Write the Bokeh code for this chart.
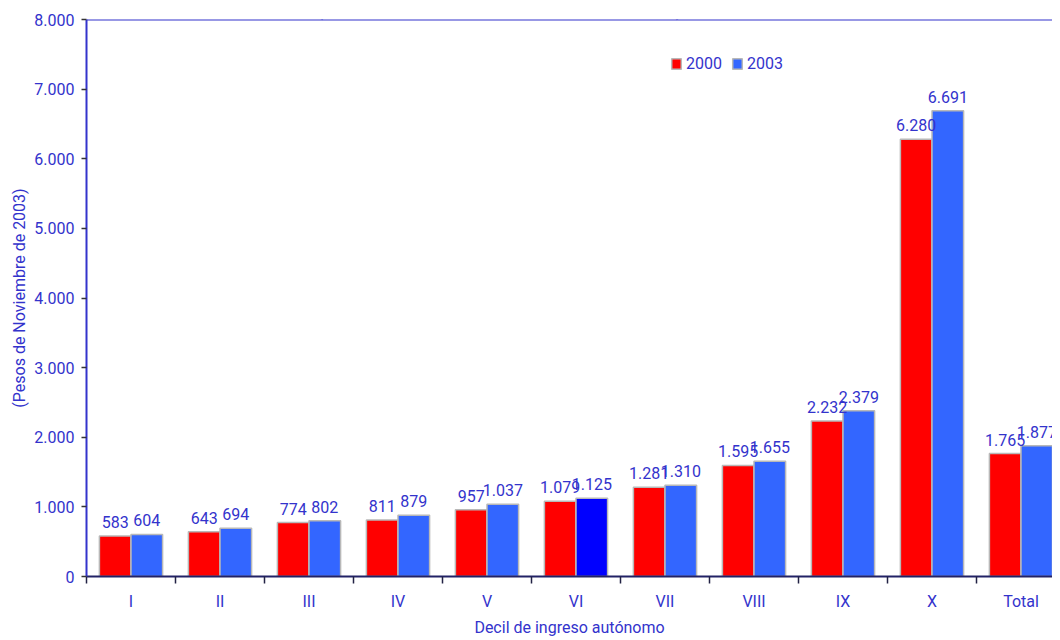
from bokeh.plotting import figure
from bokeh.models import ColumnDataSource, Range1d, FixedTicker, Span, Label, Legend, LegendItem
from bokeh.transform import dodge
from bokeh.embed import file_html
from bokeh.resources import INLINE
from bokeh.core.properties import value

# ---------------- data ----------------
categories = ["I", "II", "III", "IV", "V", "VI", "VII", "VIII", "IX", "X", "Total"]
values_2000 = [583, 643, 774, 811, 957, 1079, 1281, 1595, 2232, 6280, 1765]
values_2003 = [604, 694, 802, 879, 1037, 1125, 1310, 1655, 2379, 6691, 1877]
series_names = ["2000", "2003"]
y_ticks = [0, 1000, 2000, 3000, 4000, 5000, 6000, 7000, 8000]
highlight_category = "VI"
title_text = "(Pesos de noviembre de 2003)"
x_title = "Decil de ingreso autónomo"
y_title = "(Pesos de Noviembre de 2003)"

# ---------------- styles ----------------
FONT = "Roboto"
TXT = "#3333CC"
RED = "#FF0000"
BLUE = "#3366FF"
BLUE_HI = "#0000FF"
EDGE = "#B8B8B8"
W, H = 1052, 640
LEFT, TOP, BOTTOM = 86, 19, 64
CAT_PX = 89.0
BAR_W = 0.355

def fmt(v):
    return f"{v:,}".replace(",", ".")

xs = [i + 1 for i in range(len(categories))]
colors_2003 = [BLUE_HI if c == highlight_category else BLUE for c in categories]
src = ColumnDataSource(dict(
    x=xs, cat=categories,
    y2000=values_2000, y2003=values_2003,
    l2000=[fmt(v) for v in values_2000], l2003=[fmt(v) for v in values_2003],
    c2003=colors_2003,
))

frame_w = W - LEFT
frame_h = H - TOP - BOTTOM
x_end = 0.5 + frame_w / CAT_PX
y_max = y_ticks[-1]

p = figure(width=W, height=H, output_backend="svg", toolbar_location=None,
           x_range=Range1d(0.5, x_end), y_range=Range1d(0, y_max),
           min_border_left=LEFT, min_border_right=0, min_border_top=TOP,
           min_border_bottom=BOTTOM)
p.outline_line_color = None
p.xgrid.visible = False
p.ygrid.visible = False

r0 = p.vbar(x=dodge("x", -BAR_W / 2, range=p.x_range), top="y2000", width=BAR_W,
            source=src, fill_color=RED, line_color=EDGE, line_width=1.5)
r1 = p.vbar(x=dodge("x", BAR_W / 2, range=p.x_range), top="y2003", width=BAR_W,
            source=src, fill_color="c2003", line_color=EDGE, line_width=1.5)

for off, col, ycol in ((-BAR_W / 2, "l2000", "y2000"), (BAR_W / 2, "l2003", "y2003")):
    p.text(x=dodge("x", off, range=p.x_range), y=ycol, text=col, source=src,
           text_align="center", text_baseline="bottom", y_offset=-8,
           text_font=value(FONT), text_font_size="16px", text_color=TXT)

# top border line
p.add_layout(Span(location=y_max, dimension="width", line_color=TXT, line_width=2))

# x axis
xa = p.xaxis[0]
xa.ticker = FixedTicker(ticks=xs, minor_ticks=[x - 0.5 for x in xs] + [xs[-1] + 0.5])
xa.major_label_overrides = {x: c for x, c in zip(xs, categories)}
xa.major_tick_out = 0
xa.major_tick_in = 0
xa.minor_tick_out = 7
xa.minor_tick_in = 0
xa.minor_tick_line_color = "#222244"
xa.minor_tick_line_width = 1.5
xa.axis_line_color = "#222266"
xa.axis_line_width = 2
xa.major_label_standoff = 8
xa.major_label_text_font = FONT
xa.major_label_text_font_size = "16px"
xa.major_label_text_color = TXT
xa.axis_label = x_title
xa.axis_label_text_font = FONT
xa.axis_label_text_font_size = "16px"
xa.axis_label_text_font_style = "normal"
xa.axis_label_text_color = TXT
xa.axis_label_standoff = 4

# y axis
ya = p.yaxis[0]
ya.ticker = FixedTicker(ticks=y_ticks, minor_ticks=[])
ya.major_label_overrides = {t: fmt(t) for t in y_ticks}
ya.axis_line_color = TXT
ya.axis_line_width = 2
ya.major_tick_out = 5
ya.major_tick_in = 0
ya.major_tick_line_color = "#333333"
ya.major_tick_line_width = 1.5
ya.minor_tick_out = 0
ya.minor_tick_in = 0
ya.major_label_standoff = 7
ya.major_label_text_font = FONT
ya.major_label_text_font_size = "16px"
ya.major_label_text_color = TXT
ya.axis_label = y_title
ya.axis_label_text_font = FONT
ya.axis_label_text_font_size = "16px"
ya.axis_label_text_font_style = "normal"
ya.axis_label_text_color = TXT
ya.axis_label_standoff = 2

# title (its upper part is cut off in the original)
p.add_layout(Label(x=0.5 + (499 - LEFT) / CAT_PX, y=y_max * (1 + 15 / frame_h),
                   text=title_text, text_align="center", text_baseline="alphabetic",
                   text_font=FONT, text_font_size="27px", text_font_style="bold",
                   text_color=TXT))

legend = Legend(items=[LegendItem(label=series_names[0], renderers=[r0]),
                       LegendItem(label=series_names[1], renderers=[r1], index=0)],
                orientation="horizontal", location=(584, 503),
                padding=0, margin=0, spacing=9, label_standoff=4,
                glyph_width=12, glyph_height=13, label_height=14,
                border_line_color=None, background_fill_alpha=0,
                label_text_font=FONT, label_text_font_size="16px",
                label_text_color=TXT)
p.add_layout(legend)

open("out.html", "w").write(file_html(p, INLINE))
